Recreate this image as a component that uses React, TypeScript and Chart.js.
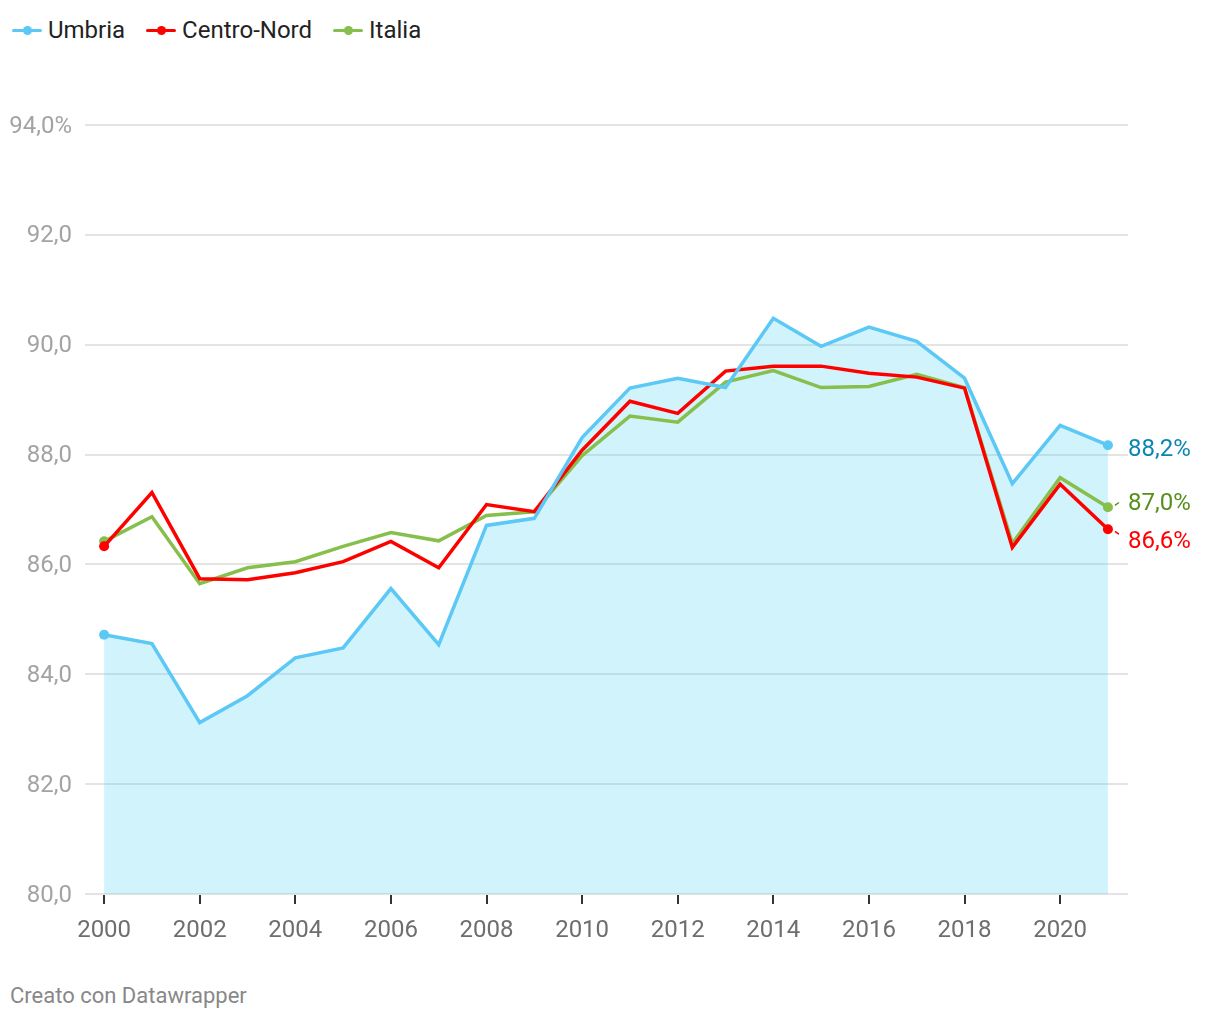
import React, { useEffect, useRef } from "react";
import { Chart, registerables } from "chart.js";

Chart.register(...registerables);

const years = [2000, 2001, 2002, 2003, 2004, 2005, 2006, 2007, 2008, 2009, 2010, 2011, 2012, 2013, 2014, 2015, 2016, 2017, 2018, 2019, 2020, 2021];
const umbria = [84.72, 84.56, 83.12, 83.61, 84.3, 84.48, 85.56, 84.54, 86.71, 86.84, 88.31, 89.21, 89.39, 89.22, 90.48, 89.97, 90.32, 90.06, 89.39, 87.47, 88.53, 88.17];
const centroNord = [86.33, 87.31, 85.74, 85.72, 85.85, 86.05, 86.42, 85.94, 87.09, 86.96, 88.08, 88.97, 88.75, 89.52, 89.61, 89.61, 89.48, 89.41, 89.21, 86.31, 87.46, 86.64];
const italia = [86.42, 86.87, 85.65, 85.94, 86.05, 86.33, 86.58, 86.43, 86.89, 86.96, 87.98, 88.7, 88.59, 89.32, 89.53, 89.22, 89.24, 89.46, 89.22, 86.38, 87.58, 87.04];
const xTickYears = [2000, 2002, 2004, 2006, 2008, 2010, 2012, 2014, 2016, 2018, 2020];
const endLabels = ["88,2%", "86,6%", "87,0%"];

const seriesNames = ["Umbria", "Centro-Nord", "Italia"];
const seriesColors = ["#5bc8f5", "#ff0000", "#86bf4b"];
const labelColors = ["#0a86b3", "#ff0000", "#55901c"];

const FONT = "Roboto, 'Noto Sans', sans-serif";

const endLabelPlugin = {
  id: "endLabels",
  afterDatasetsDraw(chart: any) {
    const ctx = chart.ctx;
    const items: any[] = [];
    chart.data.datasets.forEach((ds: any, i: number) => {
      const meta = chart.getDatasetMeta(i);
      const pt = meta.data[meta.data.length - 1];
      items.push({ i, px: pt.x, py: pt.y, ly: pt.y });
    });
    const sorted = [...items].sort((a, b) => a.py - b.py);
    const gap = 38;
    for (let iter = 0; iter < 50; iter++) {
      for (let k = 0; k < sorted.length - 1; k++) {
        const a = sorted[k], b = sorted[k + 1];
        const d = b.ly - a.ly;
        if (d < gap) {
          const m = (gap - d) / 2;
          a.ly -= m;
          b.ly += m;
        }
      }
    }
    ctx.save();
    ctx.font = `24px ${FONT}`;
    ctx.textBaseline = "middle";
    ctx.textAlign = "left";
    const x0 = chart.chartArea.right;
    items.forEach((it) => {
      const ly = it.ly + 4.5;
      const dy = it.ly - it.py;
      ctx.fillStyle = labelColors[it.i];
      ctx.fillText(endLabels[it.i], x0, ly);
      if (Math.abs(dy) > 3) {
        ctx.strokeStyle = labelColors[it.i];
        ctx.lineWidth = 1.5;
        ctx.beginPath();
        ctx.moveTo(it.px + 7, it.py + dy * 0.25);
        ctx.lineTo(it.px + 11, it.py + dy * 0.6);
        ctx.stroke();
      }
    });
    ctx.restore();
  },
};

export default function App() {
  const ref = useRef<HTMLCanvasElement | null>(null);
  useEffect(() => {
    document.body.style.margin = "0";
    const n = years.length;
    const mk = (vals: number[]) => vals.map((v, i) => ({ x: years[i], y: v }));
    const radius = (c: any) => (c.dataIndex === 0 || c.dataIndex === n - 1 ? 5 : 0);
    const chart = new Chart(ref.current as HTMLCanvasElement, {
      type: "line",
      data: {
        datasets: [
          {
            label: seriesNames[0],
            data: mk(umbria),
            borderColor: seriesColors[0],
            backgroundColor: "rgba(91,212,245,0.28)",
            fill: "start",
            borderWidth: 3.5,
            pointRadius: radius,
            pointBackgroundColor: seriesColors[0],
            pointBorderWidth: 0,
            tension: 0,
          },
          {
            label: seriesNames[1],
            data: mk(centroNord),
            borderColor: seriesColors[1],
            backgroundColor: seriesColors[1],
            fill: false,
            borderWidth: 3.5,
            pointRadius: radius,
            pointBackgroundColor: seriesColors[1],
            pointBorderWidth: 0,
            tension: 0,
          },
          {
            label: seriesNames[2],
            data: mk(italia),
            borderColor: seriesColors[2],
            backgroundColor: seriesColors[2],
            fill: false,
            borderWidth: 3.5,
            pointRadius: radius,
            pointBackgroundColor: seriesColors[2],
            pointBorderWidth: 0,
            tension: 0,
          },
        ],
      },
      options: {
        responsive: false,
        animation: false,
        layout: { padding: { top: 125, left: 0, right: 92, bottom: 0 } },
        plugins: {
          legend: { display: false },
          tooltip: { enabled: false },
          filler: { drawTime: "beforeDatasetsDraw" },
        } as any,
        scales: {
          x: {
            type: "linear",
            min: 1999.6,
            max: 2021.42,
            afterBuildTicks: (scale: any) => {
              scale.ticks = xTickYears.map((v) => ({ value: v }));
            },
            afterFit: (scale: any) => {
              scale.height = 51;
            },
            border: { display: false },
            grid: {
              drawOnChartArea: false,
              drawTicks: true,
              tickLength: 10,
              color: "#333333",
              lineWidth: 2,
            },
            ticks: {
              padding: 13,
              color: "#6e6e6e",
              font: { family: FONT, size: 24 },
              callback: (v: any) => String(v),
              maxRotation: 0,
              autoSkip: false,
            },
          },
          y: {
            min: 80,
            max: 94,
            afterFit: (scale: any) => {
              scale.width = 85;
            },
            border: { display: false },
            grid: { color: "#e4e4e4", lineWidth: 2, drawTicks: false },
            ticks: {
              stepSize: 2,
              padding: 13,
              labelOffset: 1.5,
              color: "#a3a3a3",
              font: { family: FONT, size: 24 },
              callback: (v: any) => (v === 94 ? "94,0%" : Number(v).toFixed(1).replace(".", ",")),
            },
          },
        },
      },
      plugins: [endLabelPlugin],
    } as any);
    return () => chart.destroy();
  }, []);

  const legendItem = (i: number) => (
    <div key={i} style={{ display: "flex", alignItems: "center", marginRight: 21 }}>
      <span style={{ position: "relative", width: 30, height: 3, background: seriesColors[i], display: "inline-block", borderRadius: 2 }}>
        <span
          style={{
            position: "absolute",
            left: 10.5,
            top: -3,
            width: 9,
            height: 9,
            borderRadius: "50%",
            background: seriesColors[i],
          }}
        />
      </span>
      <span style={{ marginLeft: 6, fontSize: 24, color: "#222222", fontFamily: FONT }}>{seriesNames[i]}</span>
    </div>
  );

  return (
    <div style={{ position: "relative", width: 1220, height: 1020, fontFamily: FONT, background: "#ffffff" }}>
      <div style={{ position: "absolute", left: 12, top: 15, height: 30, display: "flex", alignItems: "center" }}>
        {[0, 1, 2].map(legendItem)}
      </div>
      <canvas ref={ref} width={1220} height={945} style={{ position: "absolute", left: 0, top: 0, width: 1220, height: 945 }} />
      <div style={{ position: "absolute", left: 10, top: 983, fontSize: 22, color: "#888888", fontFamily: FONT, lineHeight: "26px" }}>
        Creato con Datawrapper
      </div>
    </div>
  );
}
